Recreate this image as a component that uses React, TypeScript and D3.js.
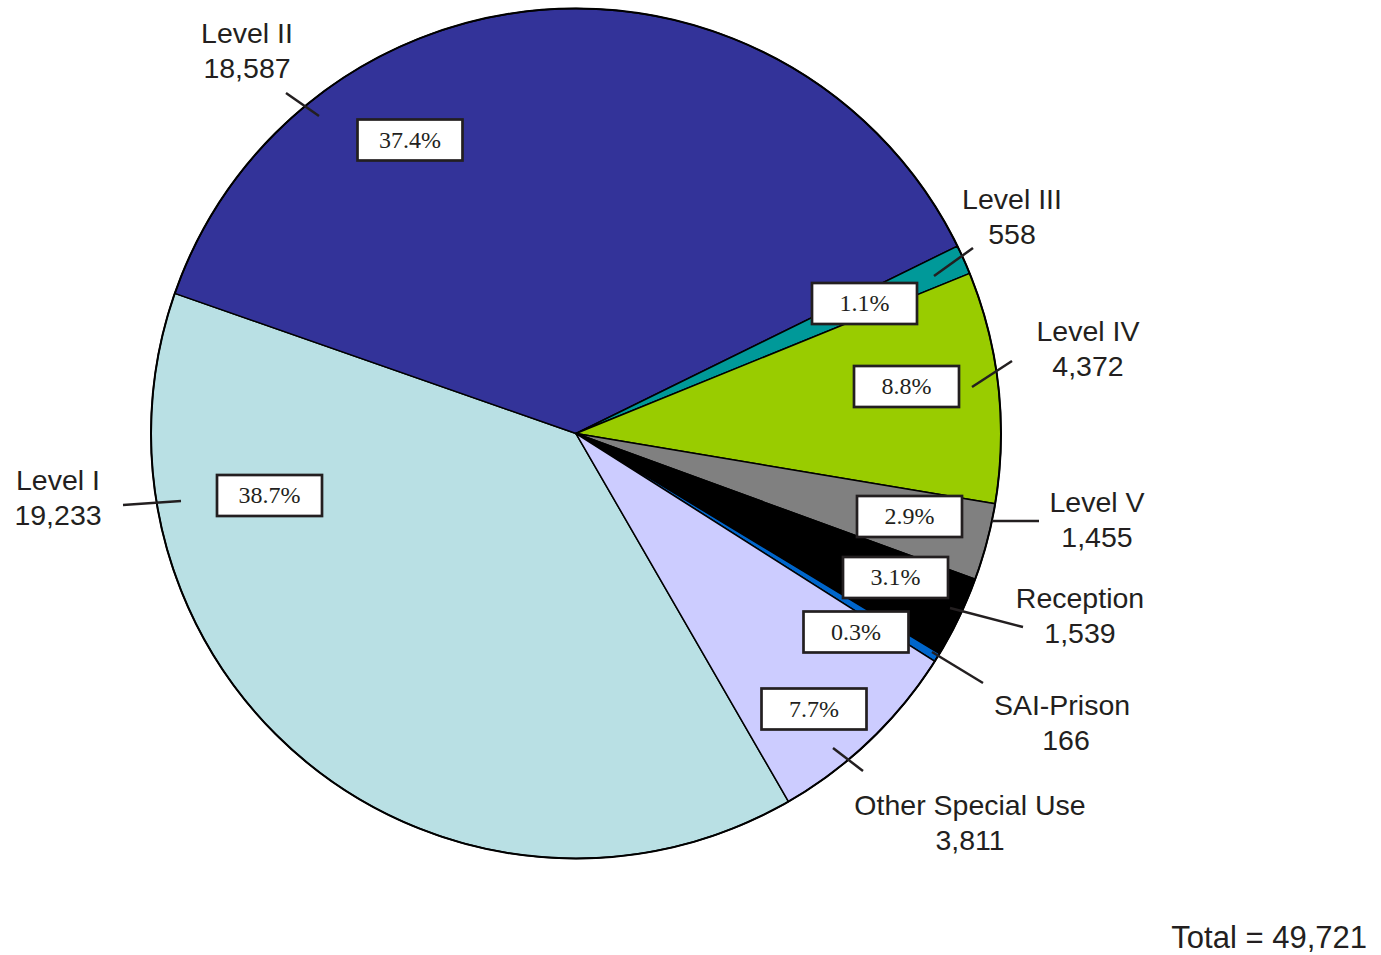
import React from "react";
import * as d3 from "d3";

// ---- data ----
const categories = [
  "Level I",
  "Level II",
  "Level III",
  "Level IV",
  "Level V",
  "Reception",
  "SAI-Prison",
  "Other Special Use",
];
const counts = [19233, 18587, 558, 4372, 1455, 1539, 166, 3811];
const percentLabels = ["38.7%", "37.4%", "1.1%", "8.8%", "2.9%", "3.1%", "0.3%", "7.7%"];
const countLabels = ["19,233", "18,587", "558", "4,372", "1,455", "1,539", "166", "3,811"];
const colors = ["#B9E0E4", "#333399", "#009999", "#99CC00", "#808080", "#000000", "#0066CC", "#CCCCFF"];
const totalLabel = "Total = 49,721";

// ---- layout (offsets relative to pie centre) ----
const CX = 576;
const CY = 433.5;
const R = 425;
const START_DEG = 150;

// percent box centres
const boxPos: [number, number][] = [
  [-306.5, 62],
  [-166, -293.5],
  [288.5, -130],
  [330.5, -47],
  [333.5, 83],
  [319.5, 144],
  [280, 198.5],
  [238, 275.5],
];
// leader lines [x1,y1,x2,y2]
const leaderPos: [number, number, number, number][] = [
  [-453, 71.5, -395, 67.5],
  [-290, -340.5, -257, -317.5],
  [358, -157.5, 397, -185.5],
  [396, -46.5, 436, -72.5],
  [416, 87.5, 463, 87.5],
  [374, 174.5, 447, 193.5],
  [356, 218.5, 407, 249.5],
  [257, 314.5, 287, 337.5],
];
// name label anchors (centre x, first baseline, second-line x shift)
const namePos: [number, number, number][] = [
  [-518, 56.5, 0],
  [-329, -390.5, 0],
  [436, -224.5, 0],
  [512, -92.5, 0],
  [521, 78.5, 0],
  [504, 174.5, 0],
  [486, 281.5, 4],
  [394, 381.5, 0],
];

const TEXT = "#231f20";

export default function App() {
  const pie = d3
    .pie<number>()
    .sort(null)
    .value((d) => d)
    .startAngle((START_DEG * Math.PI) / 180)
    .endAngle(((START_DEG + 360) * Math.PI) / 180);
  const arcs = pie(counts);
  const arc = d3.arc<d3.PieArcDatum<number>>().innerRadius(0).outerRadius(R);

  const sans = "'Liberation Sans', Arial, Helvetica, sans-serif";
  const serif = "'Liberation Serif', 'Times New Roman', serif";
  const BW = 105;
  const BH = 41;

  return (
    <svg
      width={1381}
      height={955}
      style={{ position: "absolute", left: 0, top: 0, display: "block", background: "#fff" }}
    >
      <g transform={`translate(${CX},${CY})`}>
        {arcs.map((a, i) => (
          <path
            key={categories[i]}
            d={arc(a) || ""}
            fill={colors[i]}
            stroke="#000"
            strokeWidth={1.5}
            strokeLinejoin="round"
          />
        ))}
        <circle r={R} fill="none" stroke="#000" strokeWidth={2} />
        {leaderPos.map((l, i) => (
          <line
            key={"l" + i}
            x1={l[0]}
            y1={l[1]}
            x2={l[2]}
            y2={l[3]}
            stroke={TEXT}
            strokeWidth={2.5}
          />
        ))}
        {boxPos.map((b, i) => (
          <g key={"b" + i} transform={`translate(${b[0]},${b[1]})`}>
            <rect
              x={-BW / 2}
              y={-BH / 2}
              width={BW}
              height={BH}
              fill="#fff"
              stroke={TEXT}
              strokeWidth={2.7}
            />
            <text
              y={7.5}
              textAnchor="middle"
              fontFamily={serif}
              fontSize={24}
              fill={TEXT}
            >
              {percentLabels[i]}
            </text>
          </g>
        ))}
        {namePos.map((p, i) => (
          <text
            key={"n" + i}
            x={p[0]}
            y={p[1]}
            textAnchor="middle"
            fontFamily={sans}
            fontSize={28.5}
            fill={TEXT}
          >
            <tspan x={p[0]}>{categories[i]}</tspan>
            <tspan x={p[0] + p[2]} dy={35}>
              {countLabels[i]}
            </tspan>
          </text>
        ))}
      </g>
      <text
        x={1367}
        y={948}
        textAnchor="end"
        fontFamily={sans}
        fontSize={31}
        fill={TEXT}
      >
        {totalLabel}
      </text>
    </svg>
  );
}
